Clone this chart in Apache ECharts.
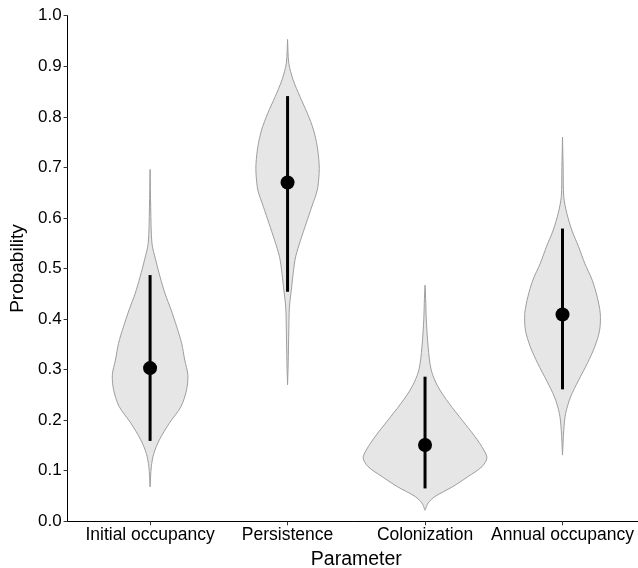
<!DOCTYPE html>
<html>
<head>
<meta charset="utf-8">
<script src="https://cdn.jsdelivr.net/npm/echarts@6/dist/echarts.min.js"></script>
<style>
html,body{margin:0;padding:0;background:#fff;}
#chart{width:638px;height:568px;}
</style>
</head>
<body>
<div id="chart"></div>
<script>
// Categories and summary values
const categories = ['Initial occupancy', 'Persistence', 'Colonization', 'Annual occupancy'];
const medians = [0.303, 0.670, 0.151, 0.409];
const lower = [0.159, 0.454, 0.065, 0.261];
const upper = [0.487, 0.841, 0.286, 0.579];

// Violin outlines: probability values and relative density
const initY = [0.068, 0.108, 0.134, 0.161, 0.194, 0.227, 0.26, 0.29, 0.319, 0.352, 0.385, 0.418, 0.451, 0.484, 0.517, 0.55, 0.62, 0.696];
const initD = [0, 0.02, 0.06, 0.15, 0.31, 0.50, 0.59, 0.61, 0.56, 0.51, 0.43, 0.34, 0.24, 0.16, 0.09, 0.03, 0.01, 0];
const persY = [0.27, 0.312, 0.378, 0.424, 0.457, 0.49, 0.523, 0.556, 0.589, 0.622, 0.655, 0.688, 0.708, 0.741, 0.774, 0.807, 0.84, 0.873, 0.906, 0.953];
const persD = [0, 0.01, 0.02, 0.03, 0.06, 0.09, 0.13, 0.21, 0.30, 0.39, 0.48, 0.51, 0.51, 0.48, 0.42, 0.32, 0.20, 0.09, 0.02, 0];
const colY = [0.022, 0.036, 0.049, 0.068, 0.088, 0.108, 0.125, 0.141, 0.167, 0.2, 0.233, 0.266, 0.299, 0.345, 0.4, 0.44, 0.467];
const colD = [0, 0.05, 0.16, 0.44, 0.69, 0.92, 1.0, 0.95, 0.81, 0.60, 0.39, 0.21, 0.10, 0.05, 0.02, 0.01, 0];
const annY = [0.131, 0.18, 0.213, 0.246, 0.279, 0.312, 0.345, 0.378, 0.411, 0.444, 0.477, 0.51, 0.543, 0.576, 0.609, 0.642, 0.7, 0.76];
const annD = [0, 0.02, 0.05, 0.13, 0.26, 0.40, 0.52, 0.60, 0.61, 0.56, 0.48, 0.36, 0.26, 0.15, 0.07, 0.02, 0.01, 0];

const violinY = [initY, persY, colY, annY];
const violinD = [initD, persD, colD, annD];

const HALF = 0.45;
const FONT = '"Liberation Sans", Arial, sans-serif';

const chart = echarts.init(document.getElementById('chart'), null, {renderer: 'canvas'});

const catPos = categories.map((c, i) => i + 1);

const option = {
  animation: false,
  backgroundColor: '#ffffff',
  grid: {left: 67.6, right: -7, top: 15.7, bottom: 46.7, containLabel: false, outerBoundsMode: 'none'},
  xAxis: {
    type: 'value',
    min: 0.4,
    max: 4.6,
    name: 'Parameter',
    nameLocation: 'middle',
    nameGap: 26,
    nameTextStyle: {fontFamily: FONT, fontSize: 19.5, color: '#000'},
    splitLine: {show: false},
    axisLine: {show: true, onZero: false, lineStyle: {color: '#000', width: 1}},
    axisTick: {show: true, length: 4, lineStyle: {color: '#333', width: 1}, customValues: catPos},
    axisLabel: {
      show: true,
      customValues: catPos,
      margin: 5,
      fontFamily: FONT,
      fontSize: 17.5,
      color: '#000',
      formatter: v => categories[Math.round(v) - 1] || ''
    }
  },
  yAxis: {
    type: 'value',
    min: 0,
    max: 1,
    interval: 0.1,
    name: 'Probability',
    nameLocation: 'middle',
    nameGap: 40,
    nameRotate: 90,
    nameTextStyle: {fontFamily: FONT, fontSize: 19, color: '#000'},
    splitLine: {show: false},
    axisLine: {show: true, lineStyle: {color: '#000', width: 1}},
    axisTick: {show: true, length: 4, lineStyle: {color: '#333', width: 1}},
    axisLabel: {
      margin: 6,
      fontFamily: FONT,
      fontSize: 17,
      color: '#000',
      formatter: v => v.toFixed(1)
    }
  },
  series: [
    {
      type: 'custom',
      name: 'violin',
      data: catPos.map((p, i) => [p, medians[i]]),
      renderItem: function (params, api) {
        const pos = api.value(0);
        const i = Math.round(pos) - 1;
        const ys = violinY[i], ds = violinD[i];
        const pts = [];
        for (let k = 0; k < ys.length; k++) pts.push(api.coord([pos - ds[k] * HALF, ys[k]]));
        for (let k = ys.length - 1; k >= 0; k--) pts.push(api.coord([pos + ds[k] * HALF, ys[k]]));
        return {
          type: 'polygon',
          shape: {points: pts, smooth: 0.3},
          style: {fill: '#E6E6E6', stroke: '#9E9E9E', lineWidth: 1}
        };
      },
      z: 1
    },
    {
      type: 'custom',
      name: 'interval',
      data: catPos.map((p, i) => [p, lower[i], upper[i]]),
      renderItem: function (params, api) {
        const a = api.coord([api.value(0), api.value(1)]);
        const b = api.coord([api.value(0), api.value(2)]);
        return {
          type: 'line',
          shape: {x1: a[0], y1: a[1], x2: b[0], y2: b[1]},
          style: {stroke: '#000', lineWidth: 3}
        };
      },
      z: 2
    },
    {
      type: 'scatter',
      name: 'median',
      data: catPos.map((p, i) => [p, medians[i]]),
      symbol: 'circle',
      symbolSize: 14,
      itemStyle: {color: '#000', opacity: 1},
      z: 3
    }
  ]
};

chart.setOption(option);
</script>
</body>
</html>
